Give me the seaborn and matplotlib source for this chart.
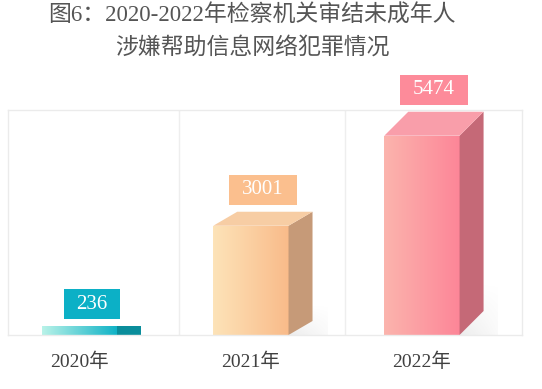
import numpy as np
import pandas as pd
import seaborn as sns
import matplotlib.pyplot as plt
from matplotlib.colors import to_rgb
from matplotlib.patches import Polygon, Rectangle

# data
years = ["2020年", "2021年", "2022年"]
counts = [236, 3001, 5474]

# bar styling (left/right of front gradient, side face, top face, label box)
front_left = ["#b8f2e8", "#fde3b8", "#fbb4ad"]
front_right = ["#0fb2c6", "#f9bb8a", "#fd8698"]
side_cols = ["#0a8d9b", "#c69a78", "#c56977"]
top_cols = ["#7fd8de", "#f7cda4", "#f99eaa"]
label_cols = ["#0cb0c6", "#fbbf8e", "#fd8b9a"]
depth_px = [0, 14, 24]

sns.set_theme(style="white")
plt.rcParams['font.family'] = ['Liberation Serif', 'Noto Sans CJK SC', 'DejaVu Sans']

df = pd.DataFrame({"year": years, "count": counts})

W, H = 542, 389
fig = plt.figure(figsize=(W / 100, H / 100), dpi=100)
ax = fig.add_axes([8 / W, 54 / H, 514 / W, 225 / H])

sns.barplot(data=df, x="year", y="count", hue="year", palette=front_right,
            width=0.44, legend=False, ax=ax)

xmin, xmax = -0.42, 2.585
ymax = 6180
xpp = (xmax - xmin) / 514
ypp = ymax / 225

for i, p in enumerate(ax.patches):
    x0, w, h = p.get_x(), p.get_width(), p.get_height()
    x1 = x0 + w
    p.set_edgecolor("none")
    p.set_zorder(1)
    # front face gradient
    t = np.linspace(0, 1, 64)[None, :, None]
    arr = (1 - t) * np.array(to_rgb(front_left[i])) + t * np.array(to_rgb(front_right[i]))
    im = ax.imshow(arr, extent=[x0, x1, 0, h], aspect="auto", zorder=2,
                   interpolation="bilinear")
    im.set_clip_path(p)
    dx = 24 * xpp
    dy = depth_px[i] * ypp
    # shadow behind the bar
    if depth_px[i] > 0:
        sh_h = depth_px[i] * 2.2 * ypp
        yy = np.linspace(1, 0, 32)[:, None]
        xx = np.linspace(1, 0.3, 32)[None, :]
        rgba = np.zeros((32, 32, 4))
        rgba[..., :3] = 0.55
        rgba[..., 3] = 0.16 * yy * xx
        ax.imshow(rgba, extent=[x1, x1 + dx + 14 * xpp, sh_h, 0], aspect="auto",
                  zorder=1.5, interpolation="bilinear", origin="upper")
    ax.add_patch(Polygon([(x1, 0), (x1 + dx, dy), (x1 + dx, h + dy), (x1, h)],
                         closed=True, fc=side_cols[i], ec="none", zorder=2))
    if depth_px[i] > 0:
        ax.add_patch(Polygon([(x0, h), (x0 + dx, h + dy), (x1 + dx, h + dy), (x1, h)],
                             closed=True, fc=top_cols[i], ec="none", zorder=2,
                             clip_on=False))
    # value label box
    bw = (20 + 12 * len(str(counts[i]))) * xpp
    bh = 30 * ypp
    cx = x0 + (w + dx) / 2
    by = h + dy + 7 * ypp
    ax.add_patch(Rectangle((cx - bw / 2, by), bw, bh, fc=label_cols[i], ec="none",
                           zorder=3, clip_on=False))
    ax.text(cx, by + bh / 2, str(counts[i]), ha="center", va="center",
            color="white", fontsize=15, zorder=4, clip_on=False)

# column separators
for xs in [0.58, 1.55]:
    ax.axvline(xs, color="#eeeeee", lw=1, zorder=0)

ax.set_xlim(xmin, xmax)
ax.set_ylim(0, ymax)
ax.set_yticks([])
ax.set_xlabel("")
ax.set_ylabel("")
ax.tick_params(axis="x", length=0, pad=13, labelsize=14, labelcolor="#404040")
for s in ax.spines.values():
    s.set_visible(True)
    s.set_color("#ebebeb")
    s.set_linewidth(1)

fig.text(252 / W, 1 - 16 / H, "图6：2020-2022年检察机关审结未成年人",
         ha="center", va="center", fontsize=16.5, color="#555555")
fig.text(252 / W, 1 - 48 / H, "涉嫌帮助信息网络犯罪情况",
         ha="center", va="center", fontsize=16.5, color="#555555")

fig.savefig("out.png", dpi=100)
